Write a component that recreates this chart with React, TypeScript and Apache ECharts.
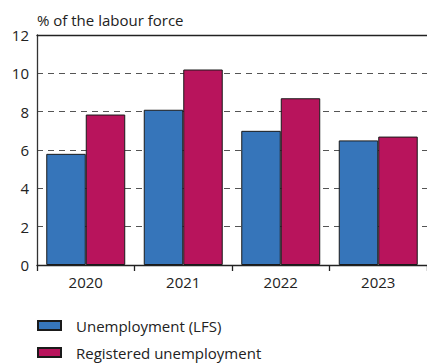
import React, { useEffect, useRef } from "react";
import * as echarts from "echarts";

const categories = ["2020", "2021", "2022", "2023"];
const lfs = [5.8, 8.1, 7.0, 6.5];
const registered = [7.85, 10.2, 8.7, 6.7];
const seriesNames = ["Unemployment (LFS)", "Registered unemployment"];
const yTitle = "% of the labour force";

const FONT = "'Open Sans', sans-serif";

export default function App() {
  const ref = useRef<HTMLDivElement>(null);
  useEffect(() => {
    const chart = echarts.init(ref.current!, null, { renderer: "svg" });
    chart.setOption({
      animation: false,
      textStyle: { fontFamily: FONT },
      grid: { left: 37, top: 35, bottom: 98, width: 396, containLabel: false },
      legend: {
        orient: "vertical",
        left: 37,
        top: 317,
        height: 46,
        padding: 0,
        itemWidth: 23,
        itemHeight: 9,
        itemGap: 10,
        icon: "rect",
        textStyle: { fontFamily: FONT, fontSize: 15, lineHeight: 17, color: "#222", padding: [0, 0, 0, 10] },
        data: seriesNames,
      },
      xAxis: [
        {
          type: "category",
          data: categories,
          axisLine: { lineStyle: { color: "#222", width: 1.3 } },
          axisTick: { show: true, length: 6, lineStyle: { color: "#222", width: 1.3 } },
          axisLabel: { fontFamily: FONT, fontSize: 15, color: "#222", margin: 9 },
        },
        {
          type: "category",
          position: "top",
          data: categories,
          axisLine: { show: true, lineStyle: { color: "#222", width: 1.3 } },
          axisTick: { show: false },
          axisLabel: { show: false },
        },
      ],
      yAxis: {
        type: "value",
        min: 0,
        max: 12,
        interval: 2,
        name: yTitle,
        nameLocation: "end",
        nameGap: 8,
        nameTextStyle: { fontFamily: FONT, fontSize: 15, color: "#222", align: "left", padding: [0, 0, 0, 0] },
        axisLine: { show: true, lineStyle: { color: "#333", width: 1.3 } },
        axisTick: { show: false },
        axisLabel: { fontFamily: FONT, fontSize: 15, color: "#222", margin: 8 },
        splitLine: { show: true, lineStyle: { color: "#555", width: 1.2, type: [6, 5] } },
      },
      series: [
        {
          name: seriesNames[0],
          type: "bar",
          data: lfs,
          barGap: "0%",
          barCategoryGap: "19%",
          itemStyle: { color: "#3675ba", borderColor: "#1a1a1a", borderWidth: 1 },
        },
        {
          name: seriesNames[1],
          type: "bar",
          data: registered,
          barGap: "0%",
          barCategoryGap: "19%",
          itemStyle: { color: "#b8145c", borderColor: "#1a1a1a", borderWidth: 1 },
        },
      ],
    });
    return () => chart.dispose();
  }, []);
  return <div ref={ref} style={{ width: 427, height: 363, position: "absolute", left: 0, top: 0, overflow: "hidden" }} />;
}
